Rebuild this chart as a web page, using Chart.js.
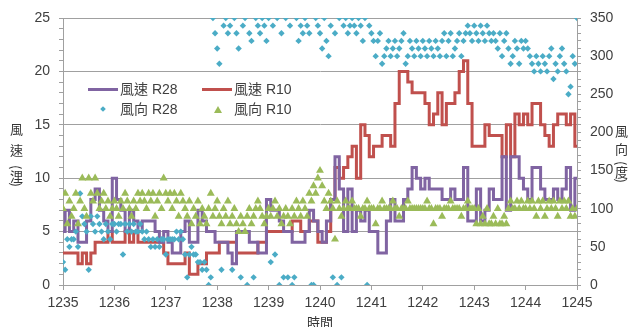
<!DOCTYPE html>
<html>
<head>
<meta charset="utf-8">
<script src="https://cdn.jsdelivr.net/npm/chart.js"></script>
<style>
  body { margin: 0; background: #fff; overflow: hidden; }
  #wrap { position: relative; width: 634px; height: 327px; }
  .vt { position: absolute; writing-mode: vertical-rl; text-orientation: mixed; line-height: 13px; color: #333;
        font-family: "Noto Sans CJK TC", sans-serif; font-size: 13px; white-space: nowrap; }
  .t { position: absolute; transform: translate(-50%, -50%); line-height: 1; color: #333;
       font-family: "Noto Sans CJK TC", sans-serif; font-size: 13px; white-space: nowrap; }
  .lg { position: absolute; line-height: 18px; height: 18px; color: #404040; white-space: nowrap;
        font-family: "Liberation Sans", "Noto Sans CJK TC", sans-serif; font-size: 14px; }
  .ln { position: absolute; width: 30px; height: 3px; }
  .dia { position: absolute; width: 4px; height: 4px; background: #4bacc6; transform: rotate(45deg); }
  .tri { position: absolute; width: 0; height: 0; border-left: 4px solid transparent;
         border-right: 4px solid transparent; border-bottom: 7px solid #9bbb59; }
</style>
</head>
<body>
<div id="wrap">
  <canvas id="chart"></canvas>

  <!-- axis titles -->
  <div class="vt" style="left:10px;top:123px"><span style="letter-spacing:8px">風速</span>(浬)</div>
  <div class="vt" style="left:615px;top:125px"><span style="letter-spacing:5px">風向</span>(度)</div>
  <div class="t" style="left:320px;top:321px">時間</div>

  <!-- legend -->
  <div class="ln" style="left:88px;top:88px;background:#8064a2"></div>
  <div class="lg" style="left:120px;top:80px">風速 R28</div>
  <div class="ln" style="left:202px;top:88px;background:#c0504d"></div>
  <div class="lg" style="left:234px;top:80px">風速 R10</div>
  <div class="dia" style="left:101px;top:107px"></div>
  <div class="lg" style="left:120px;top:100px">風向 R28</div>
  <div class="tri" style="left:214px;top:106px"></div>
  <div class="lg" style="left:234px;top:100px">風向 R10</div>
</div>

<script>
// ===== Data =====
// wind speed: one sample every 5 s, wind direction: one sample every 2.5 s (12:35 - 12:45)
const START_TIME = 1235;
const SPEED_PER_MIN = 12;
const DIR_PER_MIN = 24;

const speedR28 = [
  5,7,5,6,4,4,6,8,9,7,
  6,5,10,8,7,5,7,6,5,6,
  6,6,5,4,5,4,3,3,5,6,
  4,4,7,6,5,5,4,4,4,3,
  2,5,5,5,4,4,3,3,8,7,
  7,6,5,5,4,4,4,5,7,6,
  5,4,6,8,12,9,5,9,5,7,
  6,7,5,5,3,3,6,8,6,6,
  8,9,11,10,9,10,9,9,9,8,
  8,9,8,8,11,6,6,9,6,7,
  9,8,8,12,7,12,12,10,9,8,
  11,11,9,8,8,9,8,9,11,7,10
];

const speedR10 = [
  3,3,3,3,2,3,2,3,4,4,
  4,5,4,4,4,5,4,5,4,4,
  4,4,4,4,3,2,2,2,2,3,
  1,1,2,2,3,3,3,4,4,4,
  4,3,3,3,3,3,4,4,5,5,
  5,5,5,5,6,6,5,5,6,6,
  4,4,5,8,11,10,11,12,13,10,
  15,14,12,13,13,14,14,13,17,20,
  20,19,18,18,18,17,15,16,18,15,
  17,17,18,20,21,17,13,13,13,15,
  14,14,14,12,15,12,16,15,16,15,
  17,17,15,14,13,15,16,16,15,16,13
];

const dirR28 = [
  30,20,60,50,60, 60,70,50,120, 90,80,70,20,
  90,80,70,90,80, 70,60,80,70,60,
  80,80,70,80,80,40,80,70,80,70,80,70,70,80,
  70,60,70,
  60,50,60,50,60,50,60,60,40,60,60,60,60,
  70,60,70,60,
  40,10,40,50,40,40,
  30,30,20,30,20,0,10,
  350,330,310,290,20,340,350,330,340,20,
  350,330,310,10,340,350,0,330,320,10,
  350,340,330,350,340,320,350,30,340,40,
  350,0,330,10,350,10,340,0,10,350,
  320,340,330,350,340,330,0,0,350,340,
  330,310,350,320,300,340,10,330,0,350,
  10,340,350,330,340,350,340,330,350,340,
  320,350,0,340,330,320,300,320,330,290,
  300,310,320,300,310,320,300,310,320,330,
  290,300,320,310,300,320,310,300,320,310,
  300,320,310,300,320,310,300,320,330,300,
  320,330,300,310,320,330,300,320,330,340,
  330,320,340,330,320,340,330,320,340,330,
  320,330,320,310,330,300,320,330,310,290,
  300,320,310,290,320,310,320,310,300,290,
  280,300,290,280,300,290,280,300,310,270,
  290,280,300,310,290,280,250,260,300,290,
  350
];

const dirR10 = [
  100,120,80,110,90,100,120,80,110,140,100,90,140,
  120,110,140,120,100,110,120,100,110,90,100,110,
  100,90,110,100,120,110,100,90,110,100,120,110,
  120,110,100,120,110,120,90,110,120,100,140,120,
  110,120,100,120,110,90,120,110,100,90,110,80,
  100,90,110,80,100,90,80,100,120,90,100,110,
  90,80,100,90,110,80,90,100,80,70,90,80,
  70,90,100,80,90,100,110,100,90,80,90,100,
  90,100,110,90,100,80,90,100,90,80,100,90,
  110,100,90,110,100,90,120,110,130,120,140,150,
  130,110,100,120,110,100,60,110,100,90,100,110,
  100,100,110,100,100,100,90,100,100,110,100,100,
  100,80,100,100,110,100,100,100,100,110,100,100,
  90,100,100,100,110,100,100,100,100,100,100,100,
  100,110,100,100,80,100,100,100,90,100,100,100,
  110,100,100,100,100,90,100,100,110,100,100,100,
  80,100,80,90,80,100,80,80,90,80,100,80,
  80,90,80,100,110,100,100,110,100,110,100,100,
  110,100,110,100,90,110,100,110,90,100,110,100,
  110,100,90,110,100,110,100,110,90,100,90,100
];

const seriesNames = ["風速 R28", "風速 R10", "風向 R28", "風向 R10"];
const seriesColors = ["#8064a2", "#c0504d", "#4bacc6", "#9bbb59"];

// ===== Build =====
function toPoints(values, perMin) {
  return values.map((v, i) => ({ x: START_TIME + i / perMin, y: v }));
}

const labelFont = { family: "'Liberation Sans', Arial, sans-serif", size: 14 };
const axisGray = "#a0a0a0";

new Chart(document.getElementById("chart"), {
  type: "line",
  data: {
    datasets: [
      { label: seriesNames[0], data: toPoints(speedR28, SPEED_PER_MIN), yAxisID: "y",
        borderColor: seriesColors[0], borderWidth: 3, pointRadius: 0, stepped: "middle", order: 2 },
      { label: seriesNames[1], data: toPoints(speedR10, SPEED_PER_MIN), yAxisID: "y",
        borderColor: seriesColors[1], borderWidth: 3, pointRadius: 0, stepped: "middle", order: 3 },
      { label: seriesNames[2], data: toPoints(dirR28, DIR_PER_MIN), yAxisID: "y2", showLine: false,
        pointStyle: "rectRot", pointRadius: 3.2, borderWidth: 0,
        backgroundColor: seriesColors[2], order: 1 },
      { label: seriesNames[3], data: toPoints(dirR10, DIR_PER_MIN), yAxisID: "y2", showLine: false,
        pointStyle: "triangle", pointRadius: 4.6, borderWidth: 0,
        backgroundColor: seriesColors[3], order: 0 }
    ]
  },
  options: {
    responsive: true,
    maintainAspectRatio: false,
    animation: false,
    layout: { padding: { top: 18, left: 0, right: 0, bottom: 0 } },
    plugins: { legend: { display: false }, tooltip: { enabled: false } },
    scales: {
      x: {
        type: "linear", min: 1235, max: 1245,
        ticks: { stepSize: 1, autoSkip: false, maxRotation: 0, padding: 5,
                 font: labelFont, color: "#404040", callback: v => String(v) },
        grid: { drawOnChartArea: false, tickLength: 5, color: axisGray },
        border: { color: axisGray },
        afterFit: s => { s.height = 42; }
      },
      y: {
        position: "left", min: 0, max: 25,
        ticks: { stepSize: 1, autoSkip: false, padding: 9, font: labelFont, color: "#404040",
                 callback: v => (v % 5 === 0 ? String(v) : "") },
        grid: { color: c => (c.tick && c.tick.value % 5 === 0 ? axisGray : "rgba(0,0,0,0)"),
                tickColor: axisGray, tickLength: 4 },
        border: { color: axisGray },
        afterFit: s => { s.width = 63; }
      },
      y2: {
        position: "right", min: 0, max: 350,
        ticks: { stepSize: 10, autoSkip: false, padding: 9, font: labelFont, color: "#404040",
                 callback: v => (v % 50 === 0 ? String(v) : "") },
        grid: { drawOnChartArea: false, tickColor: axisGray, tickLength: 4 },
        border: { color: axisGray },
        afterFit: s => { s.width = 57; }
      }
    }
  }
});
</script>
</body>
</html>
